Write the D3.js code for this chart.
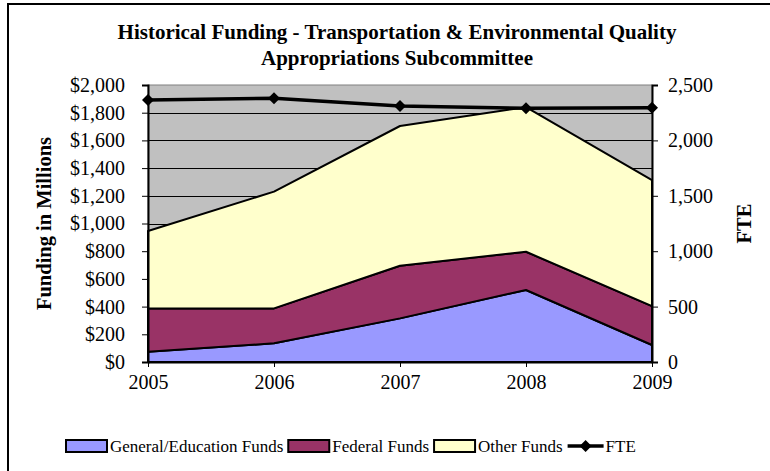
<!DOCTYPE html>
<html>
<head>
<meta charset="utf-8">
<script src="https://cdn.jsdelivr.net/npm/d3@7"></script>
<style>
  body { margin: 0; background: #fff; }
  svg { display: block; }
</style>
</head>
<body>
<div id="chart"></div>
<script>
var years = [2005, 2006, 2007, 2008, 2009];
var generalFunds = [74, 135, 315, 520, 123];
var federalFunds = [313, 252, 380, 276, 281];
var otherFunds = [559, 843, 1009, 1044, 910];
var fte = [2365, 2380, 2310, 2290, 2295];
var fundTicks = [0, 200, 400, 600, 800, 1000, 1200, 1400, 1600, 1800, 2000];
var fteTicks = [0, 500, 1000, 1500, 2000, 2500];

var serif = "'Liberation Serif', 'Times New Roman', serif";
var width = 770, height = 471;
var plot = { left: 148, right: 652, top: 85, bottom: 362 };

var svg = d3.select("#chart").append("svg")
    .attr("width", width)
    .attr("height", height)
    .attr("font-family", serif);

svg.append("rect").attr("width", width).attr("height", height).attr("fill", "#fff");

// chart frame (only left/top edges fall inside the picture)
svg.append("path")
    .attr("d", "M8," + height + "V4H" + width)
    .attr("fill", "none")
    .attr("stroke", "#000")
    .attr("stroke-width", 2);

var x = d3.scalePoint().domain(years).range([plot.left, plot.right]);
var y = d3.scaleLinear().domain([0, 2000]).range([plot.bottom, plot.top]);
var y2 = d3.scaleLinear().domain([0, 2500]).range([plot.bottom, plot.top]);

// plot area
svg.append("rect")
    .attr("x", plot.left).attr("y", plot.top)
    .attr("width", plot.right - plot.left).attr("height", plot.bottom - plot.top)
    .attr("fill", "#c0c0c0")
    .attr("stroke", "#808080")
    .attr("stroke-width", 1);

svg.append("g").selectAll("line")
    .data(fundTicks.filter(function (d) { return d > 0 && d < 2000; }))
    .enter().append("line")
    .attr("x1", plot.left).attr("x2", plot.right)
    .attr("y1", function (d) { return Math.round(y(d)) + 0.5; })
    .attr("y2", function (d) { return Math.round(y(d)) + 0.5; })
    .attr("stroke", "#000")
    .attr("stroke-width", 1);

// stacked funding areas
var rows = years.map(function (yr, i) {
  return { year: yr, general: generalFunds[i], federal: federalFunds[i], other: otherFunds[i] };
});
var keys = ["general", "federal", "other"];
var colors = { general: "#9999ff", federal: "#993366", other: "#ffffcc" };
var series = d3.stack().keys(keys)(rows);

var area = d3.area()
    .x(function (d) { return x(d.data.year); })
    .y0(function (d) { return y(d[0]); })
    .y1(function (d) { return y(d[1]); });

svg.append("g").selectAll("path")
    .data(series)
    .enter().append("path")
    .attr("d", area)
    .attr("fill", function (d) { return colors[d.key]; })
    .attr("stroke", "#000")
    .attr("stroke-width", 2)
    .attr("stroke-linejoin", "round");

// FTE line
var fteData = years.map(function (yr, i) { return { year: yr, v: fte[i] }; });
svg.append("path")
    .datum(fteData)
    .attr("d", d3.line().x(function (d) { return x(d.year); }).y(function (d) { return y2(d.v); }))
    .attr("fill", "none")
    .attr("stroke", "#000")
    .attr("stroke-width", 3.5);

svg.append("g").selectAll("path")
    .data(fteData)
    .enter().append("path")
    .attr("transform", function (d) { return "translate(" + x(d.year) + "," + y2(d.v) + ")"; })
    .attr("d", "M0,-6L6,0L0,6L-6,0Z")
    .attr("fill", "#000");

// axes
function styleAxis(g) {
  g.attr("font-family", serif).attr("font-size", 20);
  g.selectAll("text").attr("font-family", serif).attr("font-size", 20).attr("fill", "#000");
  g.selectAll("line").attr("stroke", "#000");
  g.select(".domain").attr("stroke", "#000").attr("stroke-width", 2);
}

svg.append("g")
    .attr("transform", "translate(" + plot.left + ",0)")
    .call(d3.axisLeft(y).tickValues(fundTicks).tickSize(6).tickPadding(17)
      .tickFormat(function (d) { return "$" + d3.format(",")(d); }))
    .call(styleAxis);

svg.append("g")
    .attr("transform", "translate(" + plot.right + ",0)")
    .call(d3.axisRight(y2).tickValues(fteTicks).tickSize(6).tickPadding(10)
      .tickFormat(d3.format(",")))
    .call(styleAxis);

svg.append("g")
    .attr("transform", "translate(0," + plot.bottom + ")")
    .call(d3.axisBottom(x).tickSize(5).tickPadding(8).tickSizeOuter(0))
    .call(styleAxis);

// title
var title = svg.append("text")
    .attr("text-anchor", "middle")
    .attr("font-weight", "bold")
    .attr("font-size", 21);
title.append("tspan").attr("x", 397).attr("y", 39).text("Historical Funding - Transportation & Environmental Quality");
title.append("tspan").attr("x", 397).attr("y", 65).text("Appropriations Subcommittee");

// axis titles
svg.append("text")
    .attr("transform", "translate(51," + ((plot.top + plot.bottom) / 2) + ")rotate(-90)")
    .attr("text-anchor", "middle")
    .attr("font-weight", "bold")
    .attr("font-size", 20.5)
    .text("Funding in Millions");

svg.append("text")
    .attr("transform", "translate(751," + ((plot.top + plot.bottom) / 2) + ")rotate(-90)")
    .attr("text-anchor", "middle")
    .attr("font-weight", "bold")
    .attr("font-size", 20.5)
    .text("FTE");

// legend
var legendItems = [
  { label: "General/Education Funds", key: "general" },
  { label: "Federal Funds", key: "federal" },
  { label: "Other Funds", key: "other" },
  { label: "FTE", key: "fte" }
];
var legend = svg.append("g").attr("transform", "translate(66,446)");
var lx = 0;
legendItems.forEach(function (item) {
  var g = legend.append("g").attr("transform", "translate(" + lx + ",0)");
  if (item.key === "fte") {
    g.append("line").attr("x1", 0).attr("x2", 36).attr("y1", 0).attr("y2", 0)
      .attr("stroke", "#000").attr("stroke-width", 3.5);
    g.append("path").attr("transform", "translate(18,0)").attr("d", "M0,-6L6,0L0,6L-6,0Z").attr("fill", "#000");
  } else {
    g.append("rect").attr("x", 0).attr("y", -6).attr("width", 41).attr("height", 12)
      .attr("fill", colors[item.key]).attr("stroke", "#000").attr("stroke-width", 2);
  }
  var t = g.append("text").attr("x", item.key === "fte" ? 38 : 44).attr("y", 6)
      .attr("font-size", 17).text(item.label);
  lx += (item.key === "fte" ? 38 : 44) + t.node().getComputedTextLength() + 5;
});
</script>
</body>
</html>
